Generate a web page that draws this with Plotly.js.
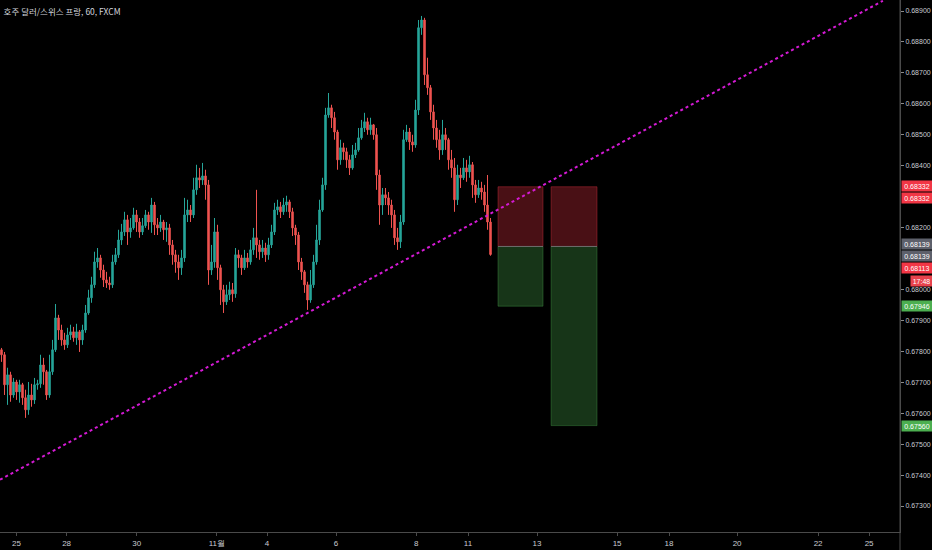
<!DOCTYPE html>
<html>
<head>
<meta charset="utf-8">
<script src="https://cdn.plot.ly/plotly-3.0.1.min.js"></script>
<style>
  html, body { margin: 0; padding: 0; background: #000; }
  #chart { width: 932px; height: 550px; }
</style>
</head>
<body>
<div id="chart"></div>
<script>
// ---- data (AUD/CHF, 60 min, FXCM) ----
const chartTitle = "호주 달러/스위스 프랑, 60, FXCM";
const firstOpen = 0.67805;
const closes = [
  0.67789,0.67692,0.67724,0.67659,0.67701,0.67669,0.67692,0.67650,0.67611,0.67659,
  0.67643,0.67692,0.67695,0.67756,0.67734,0.67659,0.67734,0.67805,0.67908,0.67869,
  0.67837,0.67821,0.67853,0.67863,0.67844,0.67863,0.67837,0.67869,0.67924,0.67973,
  0.68015,0.68089,0.68102,0.68063,0.68031,0.68021,0.68015,0.68089,0.68112,0.68160,
  0.68186,0.68225,0.68186,0.68199,0.68241,0.68218,0.68186,0.68206,0.68241,0.68218,
  0.68273,0.68209,0.68199,0.68218,0.68193,0.68199,0.68144,0.68112,0.68089,0.68070,
  0.68102,0.68241,0.68257,0.68241,0.68322,0.68361,0.68354,0.68367,0.68338,0.68063,
  0.68089,0.68186,0.68070,0.67999,0.67960,0.67983,0.67999,0.67986,0.68112,0.68102,
  0.68070,0.68102,0.68089,0.68128,0.68167,0.68144,0.68122,0.68134,0.68112,0.68144,
  0.68186,0.68257,0.68267,0.68251,0.68273,0.68283,0.68251,0.68199,0.68176,0.68089,
  0.68057,0.68015,0.67966,0.68015,0.68089,0.68160,0.68257,0.68338,0.68564,0.68587,
  0.68555,0.68509,0.68419,0.68458,0.68445,0.68419,0.68393,0.68435,0.68451,0.68490,
  0.68522,0.68542,0.68516,0.68532,0.68500,0.68370,0.68273,0.68306,0.68296,0.68273,
  0.68241,0.68167,0.68154,0.68218,0.68484,0.68509,0.68477,0.68467,0.68580,0.68846,
  0.68871,0.68694,0.68652,0.68574,0.68522,0.68484,0.68451,0.68500,0.68484,0.68419,
  0.68393,0.68290,0.68370,0.68361,0.68393,0.68380,0.68403,0.68338,0.68306,0.68328,
  0.68315,0.68273,0.68218,0.68113
];
const highs = [
  0.67811,0.67798,0.67747,0.67734,0.67714,0.67708,0.67708,0.67698,0.67676,0.67701,
  0.67695,0.67714,0.67708,0.67789,0.67779,0.67740,0.67789,0.67837,0.67953,0.67918,
  0.67886,0.67860,0.67876,0.67886,0.67879,0.67889,0.67869,0.67886,0.67950,0.67999,
  0.68041,0.68122,0.68134,0.68112,0.68080,0.68057,0.68041,0.68112,0.68134,0.68193,
  0.68212,0.68251,0.68241,0.68231,0.68264,0.68257,0.68231,0.68231,0.68257,0.68251,
  0.68296,0.68283,0.68231,0.68241,0.68225,0.68218,0.68212,0.68160,0.68128,0.68112,
  0.68128,0.68296,0.68290,0.68273,0.68361,0.68403,0.68393,0.68409,0.68387,0.68354,
  0.68144,0.68231,0.68209,0.68080,0.68015,0.68015,0.68025,0.68021,0.68134,0.68128,
  0.68112,0.68128,0.68118,0.68160,0.68199,0.68322,0.68160,0.68160,0.68151,0.68167,
  0.68209,0.68280,0.68290,0.68283,0.68296,0.68303,0.68290,0.68264,0.68209,0.68186,
  0.68102,0.68063,0.68025,0.68063,0.68112,0.68209,0.68290,0.68361,0.68587,0.68635,
  0.68597,0.68574,0.68516,0.68484,0.68474,0.68458,0.68435,0.68467,0.68474,0.68522,
  0.68548,0.68571,0.68555,0.68555,0.68535,0.68522,0.68387,0.68328,0.68328,0.68315,
  0.68290,0.68257,0.68199,0.68241,0.68516,0.68532,0.68522,0.68500,0.68613,0.68871,
  0.68884,0.68878,0.68749,0.68661,0.68597,0.68548,0.68516,0.68548,0.68522,0.68490,
  0.68451,0.68425,0.68403,0.68393,0.68425,0.68419,0.68432,0.68412,0.68354,0.68354,
  0.68348,0.68338,0.68370,0.68231
];
const lows = [
  0.67766,0.67659,0.67627,0.67637,0.67650,0.67643,0.67634,0.67627,0.67585,0.67595,
  0.67621,0.67630,0.67676,0.67682,0.67692,0.67643,0.67650,0.67724,0.67798,0.67837,
  0.67818,0.67805,0.67811,0.67837,0.67831,0.67821,0.67798,0.67821,0.67860,0.67918,
  0.67957,0.68005,0.68070,0.68038,0.68008,0.68005,0.67999,0.68005,0.68080,0.68102,
  0.68144,0.68173,0.68144,0.68167,0.68193,0.68186,0.68167,0.68176,0.68199,0.68193,
  0.68183,0.68176,0.68176,0.68186,0.68160,0.68154,0.68112,0.68080,0.68054,0.68031,
  0.68047,0.68089,0.68218,0.68218,0.68231,0.68306,0.68328,0.68338,0.68290,0.68015,
  0.68047,0.68070,0.68031,0.67950,0.67924,0.67950,0.67966,0.67960,0.67973,0.68070,
  0.68047,0.68063,0.68070,0.68080,0.68112,0.68102,0.68096,0.68102,0.68089,0.68096,
  0.68134,0.68176,0.68241,0.68231,0.68241,0.68251,0.68231,0.68173,0.68144,0.68063,
  0.68031,0.67989,0.67934,0.67957,0.68005,0.68080,0.68144,0.68251,0.68322,0.68555,
  0.68522,0.68484,0.68387,0.68403,0.68419,0.68393,0.68370,0.68387,0.68425,0.68445,
  0.68484,0.68509,0.68500,0.68500,0.68484,0.68322,0.68209,0.68241,0.68273,0.68241,
  0.68199,0.68144,0.68128,0.68134,0.68209,0.68477,0.68451,0.68445,0.68458,0.68564,
  0.68823,0.68661,0.68629,0.68548,0.68484,0.68458,0.68419,0.68435,0.68451,0.68387,
  0.68361,0.68251,0.68273,0.68328,0.68354,0.68348,0.68361,0.68296,0.68280,0.68296,
  0.68290,0.68251,0.68193,0.68109
];
// date ticks (bar-slot positions) and labels
const dateTickSlots = [5.0, 21.7, 45.1, 71.8, 88.5, 111.5, 138.2, 155.5, 178.5, 205.2, 222.5, 245.2, 272.2, 289.2];
const dateTickLabels = ["25", "28", "30", "11월", "4", "6", "8", "11", "13", "15", "18", "20", "22", "25"];
// price scale ticks
const priceTicks = [0.673,0.674,0.675,0.676,0.677,0.678,0.679,0.680,0.682,0.684,0.685,0.686,0.687,0.688,0.689];
// short-position tools
const stopPrice = 0.68332, entryPrice = 0.68139, target1 = 0.67946, target2 = 0.67560;
const lastPrice = 0.68113, countdown = "17:48";
const tool1Slots = [165.5, 180.5], tool2Slots = [183.2, 198.5];
// trend line anchors [slot, price]
const trendStart = [-0.5, 0.67385], trendEnd = [293.8, 0.68933];

// ---- build ----
const xs = closes.map((_, i) => i);
const opens = closes.map((c, i) => i === 0 ? firstOpen : closes[i - 1]);

const up = '#26a69a', down = '#ef5350';
const trace = {
  type: 'candlestick', x: xs, open: opens, high: highs, low: lows, close: closes,
  increasing: { line: { color: up, width: 1 }, fillcolor: up },
  decreasing: { line: { color: down, width: 1 }, fillcolor: down },
  whiskerwidth: 0, hoverinfo: 'none', showlegend: false
};

const redFill = 'rgba(242,54,69,0.30)', redLine = 'rgba(242,54,69,0.35)';
const grnFill = 'rgba(76,175,80,0.30)', grnLine = 'rgba(76,175,80,0.35)';
function toolShapes(slots, tgt) {
  return [
    { type: 'rect', xref: 'x', yref: 'y', x0: slots[0], x1: slots[1], y0: entryPrice, y1: stopPrice,
      fillcolor: redFill, line: { color: redLine, width: 1 }, layer: 'below' },
    { type: 'rect', xref: 'x', yref: 'y', x0: slots[0], x1: slots[1], y0: tgt, y1: entryPrice,
      fillcolor: grnFill, line: { color: grnLine, width: 1 }, layer: 'below' },
    { type: 'line', xref: 'x', yref: 'y', x0: slots[0], x1: slots[1], y0: entryPrice, y1: entryPrice,
      line: { color: '#6b6b6b', width: 1 } }
  ];
}
const shapes = [
  ...toolShapes(tool1Slots, target1),
  ...toolShapes(tool2Slots, target2),
  { type: 'line', xref: 'x', yref: 'y', x0: trendStart[0], y0: trendStart[1], x1: trendEnd[0], y1: trendEnd[1],
    line: { color: '#d41ad4', width: 2, dash: 'dot' } },
  { type: 'line', xref: 'paper', yref: 'paper', x0: 1, x1: 1, y0: -0.04, y1: 1,
    line: { color: '#4a4a4a', width: 1 } }
];

const fam = 'Liberation Sans, Arial, sans-serif';
const labelFont = { family: fam, size: 7, color: '#ffffff' };
function priceLabel(price, shift, bg, text) {
  return { xref: 'paper', yref: 'y', x: 1, y: price, xanchor: 'left', yanchor: 'middle',
    xshift: 1, yshift: shift, text: text || price.toFixed(5), showarrow: false,
    bgcolor: bg, font: labelFont, borderpad: 1.5, width: 27, align: 'center' };
}
const annotations = [
  priceLabel(stopPrice, 1, '#f23645'),
  priceLabel(stopPrice, -11, '#f23645'),
  priceLabel(entryPrice, 2, '#5d606b'),
  priceLabel(entryPrice, -10, '#5d606b'),
  priceLabel(lastPrice, -13, '#f23645'),
  Object.assign(priceLabel(lastPrice, -26, '#e8434d', countdown), { xshift: 10, width: 18 }),
  priceLabel(target1, 0, '#4caf50'),
  priceLabel(target2, 0, '#4caf50')
];

const axisFont = { family: fam, size: 7, color: '#c8cbd2' };
const layout = {
  width: 932, height: 550,
  paper_bgcolor: '#000000', plot_bgcolor: '#000000',
  margin: { l: 0, r: 32, t: 0, b: 18 },
  title: { text: chartTitle, xref: 'paper', x: 0.004, xanchor: 'left', yref: 'container', y: 0.978, yanchor: 'middle',
    font: { family: 'Noto Sans CJK KR, sans-serif', size: 8.5, color: '#d1d4dc' } },
  xaxis: {
    type: 'linear', range: [-0.5, 299.5], fixedrange: true,
    rangeslider: { visible: false },
    tickmode: 'array', tickvals: dateTickSlots, ticktext: dateTickLabels,
    showgrid: false, zeroline: false, showline: true, linecolor: '#4a4a4a', linewidth: 1,
    ticks: 'outside', ticklen: 3, tickcolor: '#4a4a4a',
    tickfont: { family: fam, size: 8, color: '#c8cbd2' }
  },
  yaxis: {
    side: 'right', range: [0.672161, 0.689356], fixedrange: true,
    tickmode: 'array', tickvals: priceTicks, tickformat: '.5f',
    showgrid: false, zeroline: false, showline: true, linecolor: '#4a4a4a', linewidth: 1,
    ticks: 'outside', ticklen: 3, tickcolor: '#8a8a8a', tickfont: axisFont
  },
  shapes: shapes,
  annotations: annotations,
  showlegend: false
};

Plotly.newPlot('chart', [trace], layout, { staticPlot: true, displayModeBar: false });
</script>
</body>
</html>
